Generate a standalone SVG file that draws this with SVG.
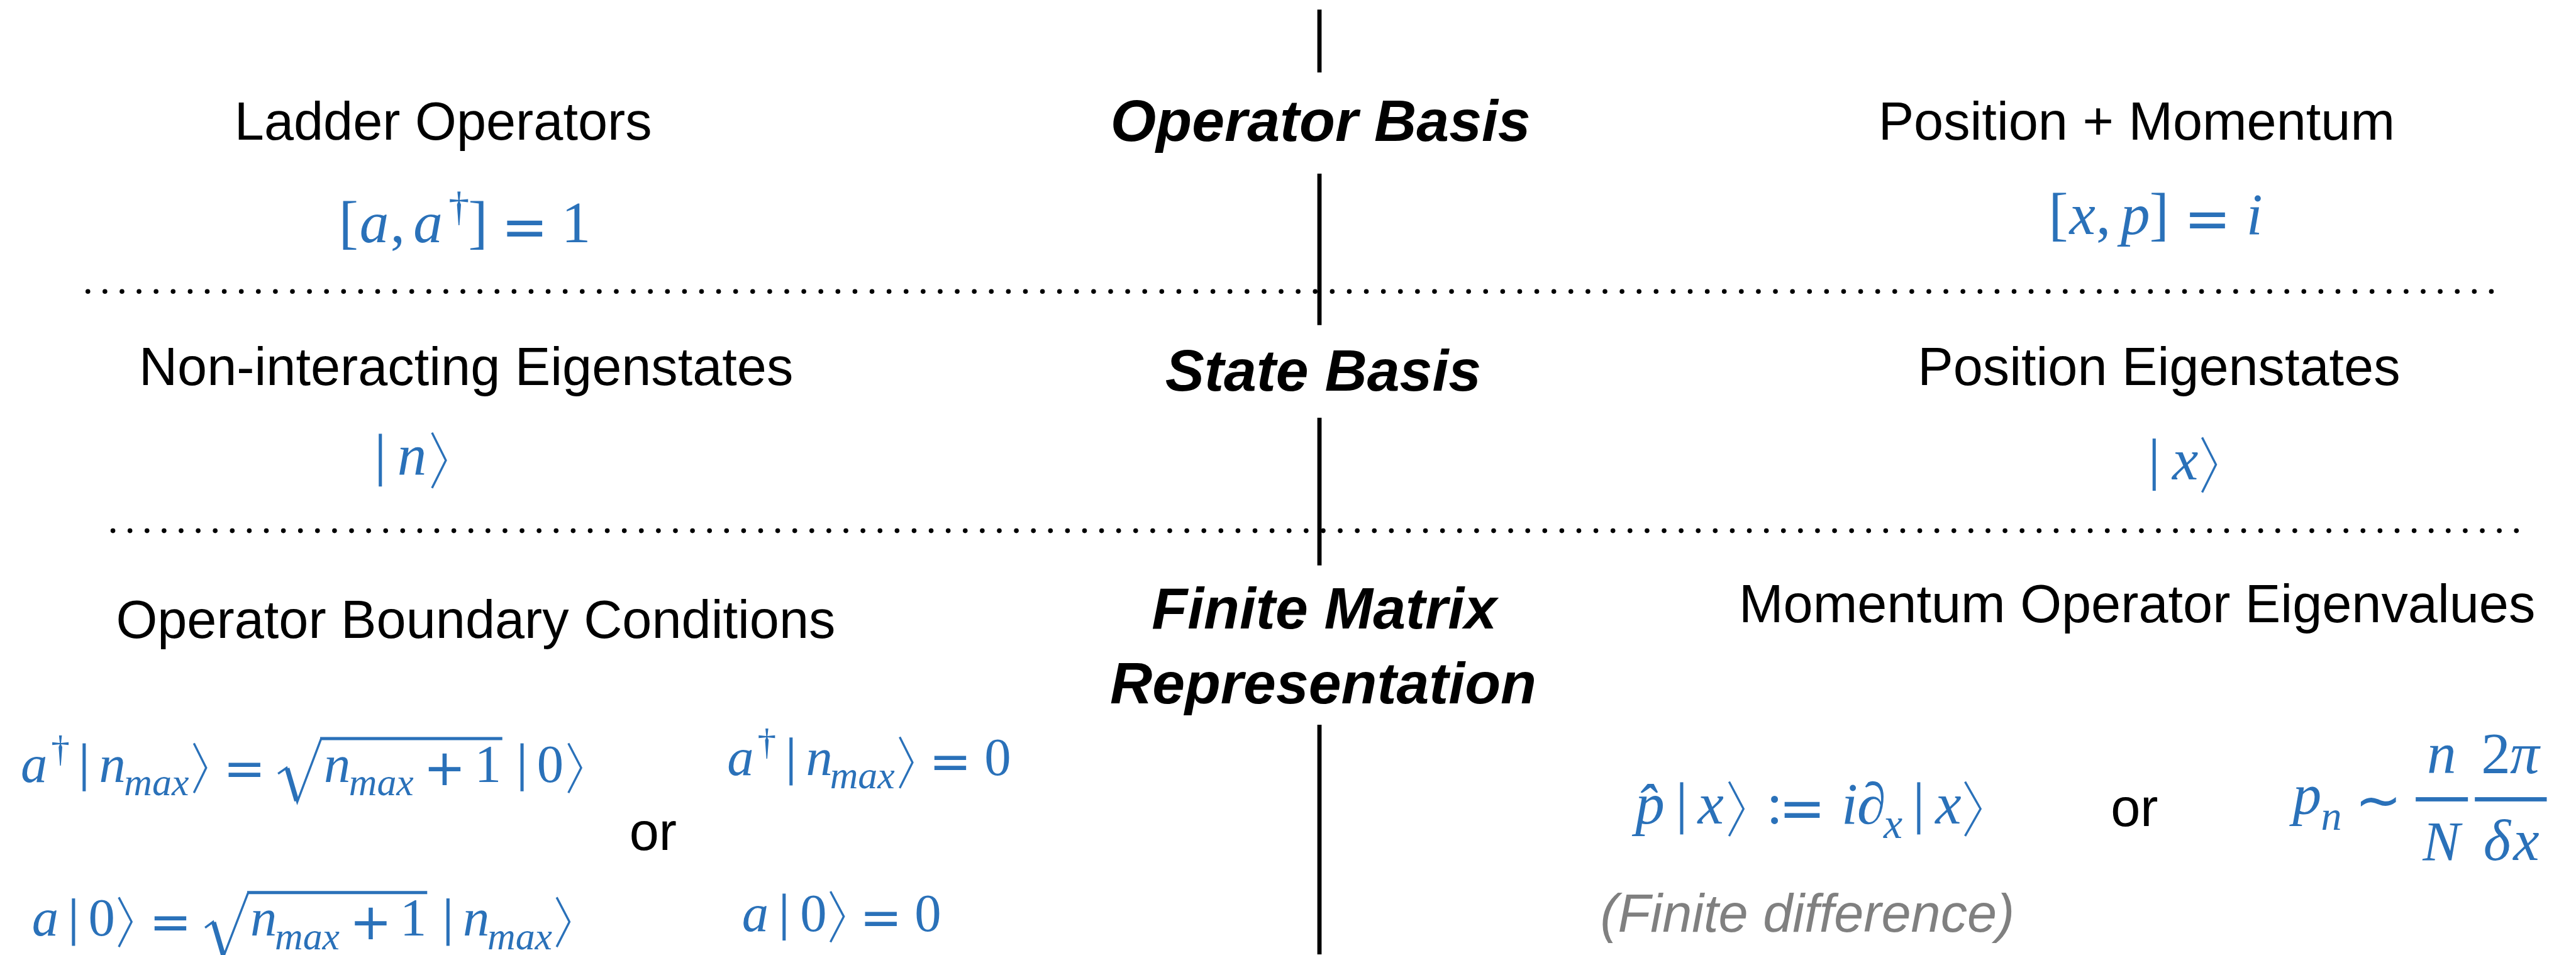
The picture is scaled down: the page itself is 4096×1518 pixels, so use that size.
<svg xmlns="http://www.w3.org/2000/svg" width="4096" height="1518" viewBox="0 0 4096 1518">
<style>
.lbl{font-family:"Liberation Sans",Arial,sans-serif;font-size:100px;fill:#000;text-anchor:middle}
.hdr{font-family:"Liberation Sans",Arial,sans-serif;font-size:110px;font-weight:bold;font-style:italic;fill:#000;text-anchor:middle}
.note{font-family:"Liberation Sans",Arial,sans-serif;font-size:100px;font-style:italic;fill:#808080;text-anchor:middle}
.m{font-family:"Liberation Serif","Times New Roman",serif;fill:#2a71b9;font-size:110px}
.m2{font-family:"Liberation Serif","Times New Roman",serif;fill:#2a71b9;font-size:100px}
.i{font-style:italic}
.op{font-family:"DejaVu Sans",sans-serif}
.sub{font-size:73px;font-style:italic}
.ket{fill:none;stroke:#2a71b9;stroke-width:4}
.vb{stroke:#2a71b9;stroke-width:6}
.rad{fill:none;stroke:#2a71b9;stroke-width:4;stroke-linejoin:miter}
.radov{stroke:#2a71b9;stroke-width:6}
.radth{stroke:#2a71b9;stroke-width:9}
.frac{fill:#2a71b9}
.div{stroke:#000;stroke-width:8}
.dots{stroke:#000;stroke-width:9;stroke-linecap:round;stroke-dasharray:0 32}
</style>
<rect width="4096" height="1518" fill="#fff"/>
<g transform="scale(0.847)">
<g id="connectors">
<line class="div" x1="2477" y1="18" x2="2477" y2="136"/>
<line class="div" x1="2477" y1="326" x2="2477" y2="610"/>
<line class="div" x1="2477" y1="784" x2="2477" y2="1061"/>
<line class="div" x1="2477" y1="1360" x2="2477" y2="1791"/>
<line class="dots" x1="165" y1="547" x2="4685" y2="547"/>
<line class="dots" x1="212" y1="996" x2="4732" y2="996"/>
</g>
<g id="hdr-operator-basis"><text class="hdr" x="2479" y="265">Operator Basis</text></g>
<g id="hdr-state-basis"><text class="hdr" x="2484" y="733">State Basis</text></g>
<g id="hdr-finite-matrix"><text class="hdr" x="2486" y="1179">Finite Matrix</text><text class="hdr" x="2484" y="1320">Representation</text></g>

<g id="ladder-operators">
<text class="lbl" x="832" y="262">Ladder Operators</text>
<text class="m" y="455"><tspan x="636">[</tspan><tspan x="675" class="i">a</tspan><tspan x="733">,</tspan><tspan x="776" class="i">a</tspan><tspan x="842" y="413" font-size="78">†</tspan><tspan x="879" y="455">]</tspan><tspan x="941" y="462" class="op" font-size="105">=</tspan><tspan x="1054" y="455">1</tspan></text>
</g>
<g id="position-momentum">
<text class="lbl" x="4011" y="262">Position + Momentum</text>
<text class="m" y="439"><tspan x="3846">[</tspan><tspan x="3885" class="i">x</tspan><tspan x="3935">,</tspan><tspan x="3981" class="i">p</tspan><tspan x="4035">]</tspan><tspan x="4100" y="446" class="op" font-size="105">=</tspan><tspan x="4217" y="439" class="i">i</tspan></text>
</g>
<g id="non-interacting">
<text class="lbl" x="875" y="722">Non-interacting Eigenstates</text>
<line class="vb" x1="714" y1="814" x2="714" y2="913"/>
<text class="m i" x="746" y="891">n</text>
<path class="ket" d="M811,812 L837,864 L811,916"/>
</g>
<g id="position-eigenstates">
<text class="lbl" x="4053" y="722">Position Eigenstates</text>
<line class="vb" x1="4044" y1="823" x2="4044" y2="921"/>
<text class="m i" x="4078" y="900">x</text>
<path class="ket" d="M4134,821 L4160,872 L4134,924"/>
</g>
<g id="operator-boundary">
<text class="lbl" x="893" y="1197">Operator Boundary Conditions</text>
<text class="m2" y="1468"><tspan x="39" class="i">a</tspan><tspan x="96" y="1428" font-size="70">†</tspan><tspan x="186" y="1467" class="i">n</tspan><tspan x="233" y="1492" class="sub">max</tspan><tspan x="419" y="1475" class="op" font-size="95">=</tspan><tspan x="608" y="1467" class="i">n</tspan><tspan x="655" y="1492" class="sub">max</tspan><tspan x="795" y="1474" class="op" font-size="95">+</tspan><tspan x="891" y="1467">1</tspan><tspan x="1008" y="1468">0</tspan></text>
<line class="vb" x1="158" y1="1395" x2="158" y2="1485"/>
<path class="ket" d="M364,1395 L387,1441 L364,1488"/>
<path class="rad" d="M522,1452 L538,1441 L558,1505 L603,1386"/>
<line class="radth" x1="539" y1="1442" x2="557" y2="1503"/>
<line class="radov" x1="601" y1="1386" x2="943" y2="1386"/>
<line class="vb" x1="980" y1="1395" x2="980" y2="1485"/>
<path class="ket" d="M1067,1395 L1091,1441 L1067,1488"/>

<text class="m2" y="1756"><tspan x="60" class="i">a</tspan><tspan x="166">0</tspan><tspan x="280" y="1763" class="op" font-size="95">=</tspan><tspan x="470" y="1756" class="i">n</tspan><tspan x="516" y="1782" class="sub">max</tspan><tspan x="656" y="1763" class="op" font-size="95">+</tspan><tspan x="751" y="1756">1</tspan><tspan x="869" y="1756" class="i">n</tspan><tspan x="915" y="1782" class="sub">max</tspan></text>
<line class="vb" x1="138" y1="1686" x2="138" y2="1775"/>
<path class="ket" d="M223,1684 L247,1730 L223,1777"/>
<path class="rad" d="M385,1741 L400,1730 L420,1794 L466,1675"/>
<line class="radth" x1="401" y1="1731" x2="419" y2="1792"/>
<line class="radov" x1="464" y1="1675" x2="802" y2="1675"/>
<line class="vb" x1="841" y1="1686" x2="841" y2="1775"/>
<path class="ket" d="M1045,1684 L1069,1730 L1045,1777"/>

<text class="lbl" x="1226" y="1595">or</text>

<text class="m2" y="1455"><tspan x="1365" class="i">a</tspan><tspan x="1422" y="1416" font-size="70">†</tspan><tspan x="1513" y="1455" class="i">n</tspan><tspan x="1558" y="1479" class="sub">max</tspan><tspan x="1744" y="1462" class="op" font-size="95">=</tspan><tspan x="1848" y="1455">0</tspan></text>
<line class="vb" x1="1485" y1="1384" x2="1485" y2="1474"/>
<path class="ket" d="M1689,1383 L1713,1431 L1689,1479"/>

<text class="m2" y="1747"><tspan x="1393" class="i">a</tspan><tspan x="1502">0</tspan><tspan x="1614" y="1754" class="op" font-size="95">=</tspan><tspan x="1717" y="1747">0</tspan></text>
<line class="vb" x1="1472" y1="1677" x2="1472" y2="1765"/>
<path class="ket" d="M1559,1673 L1584,1720 L1559,1768"/>
</g>

<g id="momentum-eigenvalues">
<text class="lbl" x="4012" y="1168">Momentum Operator Eigenvalues</text>
<text class="m" y="1545"><tspan x="3070" class="i">p̂</tspan><tspan x="3187" class="i">x</tspan><tspan x="3316">:</tspan><tspan x="3339" y="1553" class="op" font-size="105">=</tspan><tspan x="3457" y="1545" class="i">i</tspan><tspan x="3486" class="i">∂</tspan><tspan x="3536" y="1573" class="i" font-size="80">x</tspan><tspan x="3633" y="1545" class="i">x</tspan></text>
<line class="vb" x1="3157" y1="1468" x2="3157" y2="1566"/>
<path class="ket" d="M3246,1467 L3273,1518 L3246,1569"/>
<line class="vb" x1="3602" y1="1468" x2="3602" y2="1566"/>
<path class="ket" d="M3689,1467 L3718,1518 L3689,1569"/>
<text class="note" x="3393" y="1748">(Finite difference)</text>

<text class="lbl" x="4007" y="1550">or</text>

<text class="m" y="1528"><tspan x="4304" class="i" font-size="108">p</tspan><tspan x="4357" y="1557" class="i" font-size="78">n</tspan><tspan x="4421" y="1537" class="op" font-size="105">~</tspan><tspan x="4556" y="1451" class="i">n</tspan><tspan x="4658" y="1451">2</tspan><tspan x="4712" y="1451" class="i">π</tspan><tspan x="4548" y="1614" class="i" font-size="105">N</tspan><tspan x="4662" y="1614" class="i">δ</tspan><tspan x="4718" y="1614" class="i">x</tspan></text>
<rect class="frac" x="4535" y="1496" width="98" height="8"/>
<rect class="frac" x="4646" y="1496" width="135" height="8"/>
</g>
</g>
</svg>
